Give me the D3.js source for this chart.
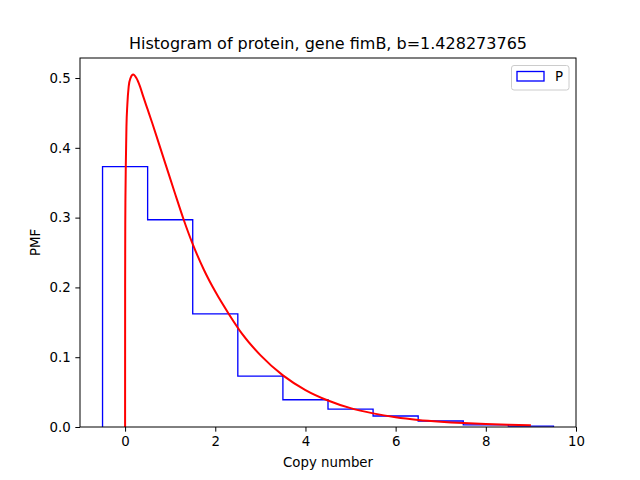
<!DOCTYPE html>
<html>
<head>
<meta charset="utf-8">
<script src="https://cdn.jsdelivr.net/npm/d3@7"></script>
<style>
html,body{margin:0;padding:0;background:#fff;}
svg{display:block;font-family:"DejaVu Sans",sans-serif;}
</style>
</head>
<body>
<svg id="chart" width="640" height="480"></svg>
<script>
// Histogram bin centres and PMF heights (bin width 1)
const binCenters = [0, 1, 2, 3, 4, 5, 6, 7, 8, 9];
const binValues = [0.373, 0.297, 0.162, 0.073, 0.039, 0.0255, 0.0158, 0.0086, 0.003, 0.0012];
// Fitted curve
const curveX = [0, 0.001, 0.004, 0.008, 0.016, 0.03, 0.05, 0.08, 0.12, 0.18, 0.25, 0.33, 0.4, 0.5, 0.6, 0.75, 0.9, 1.1, 1.3, 1.5, 1.75, 2.0, 2.3, 2.6, 3.0, 3.5, 4.0, 4.5, 5.0, 5.5, 6.0, 6.5, 7.0, 7.5, 8.0, 8.5, 9.0];
const curveY = [0, 0.20, 0.29, 0.33, 0.375, 0.43, 0.462, 0.488, 0.500, 0.505, 0.500, 0.488, 0.474, 0.455, 0.436, 0.406, 0.376, 0.336, 0.297, 0.262, 0.225, 0.194, 0.162, 0.133, 0.103, 0.074, 0.053, 0.038, 0.027, 0.0195, 0.014, 0.0102, 0.0076, 0.0057, 0.0043, 0.0032, 0.0024];
const xTicks = [0, 2, 4, 6, 8, 10];
const yTicks = [0.0, 0.1, 0.2, 0.3, 0.4, 0.5];
const titleText = "Histogram of protein, gene fimB, b=1.428273765";
const xLabel = "Copy number";
const yLabel = "PMF";
const legendLabel = "P";

const svg = d3.select("#chart");
const L = 80, R = 576, T = 58, B = 427;
const x = d3.scaleLinear().domain([-1, 10]).range([L, R]);
const y = d3.scaleLinear().domain([0, 0.5287]).range([B, T]);

svg.append("rect").attr("width", 640).attr("height", 480).attr("fill", "#fff");

// Step histogram
const stepPts = [[binCenters[0] - 0.5, 0]];
binCenters.forEach((c, i) => {
  stepPts.push([c - 0.5, binValues[i]]);
  stepPts.push([c + 0.5, binValues[i]]);
});
stepPts.push([binCenters[binCenters.length - 1] + 0.5, 0]);
svg.append("path")
  .datum(stepPts)
  .attr("d", d3.line().x(d => x(d[0])).y(d => y(d[1])))
  .attr("fill", "none").attr("stroke", "#0000ff").attr("stroke-width", 1.33)
  .attr("stroke-linejoin", "miter");

// Curve
const curvePts = curveX.map((v, i) => [v, curveY[i]]);
svg.append("path")
  .datum(curvePts)
  .attr("d", d3.line().x(d => x(d[0])).y(d => y(d[1])).curve(d3.curveMonotoneX))
  .attr("fill", "none").attr("stroke", "#ff0000").attr("stroke-width", 2)
  .attr("stroke-linejoin", "round");

// Axes
const xAxis = d3.axisBottom(x).tickValues(xTicks).tickFormat(d3.format("d")).tickSizeInner(4.67).tickSizeOuter(0).tickPadding(4.67);
const yAxis = d3.axisLeft(y).tickValues(yTicks).tickFormat(d3.format(".1f")).tickSizeInner(4.67).tickSizeOuter(0).tickPadding(4.67);
const gx = svg.append("g").attr("transform", `translate(0,${B})`).call(xAxis);
const gy = svg.append("g").attr("transform", `translate(${L},0)`).call(yAxis);
[gx, gy].forEach(g => {
  g.select(".domain").remove();
  g.selectAll("line").attr("stroke", "#000").attr("stroke-width", 1);
  g.selectAll("text").attr("fill", "#000").attr("font-size", "13.33px").attr("font-family", "DejaVu Sans");
});

// Frame
svg.append("rect").attr("x", L).attr("y", T).attr("width", R - L).attr("height", B - T)
  .attr("fill", "none").attr("stroke", "#000").attr("stroke-width", 1);

// Title and labels
svg.append("text").attr("x", (L + R) / 2).attr("y", 49).attr("text-anchor", "middle")
  .attr("font-size", "16px").attr("fill", "#000").text(titleText);
svg.append("text").attr("x", (L + R) / 2).attr("y", 467).attr("text-anchor", "middle")
  .attr("font-size", "13.33px").attr("fill", "#000").text(xLabel);
svg.append("text").attr("transform", `translate(40,${(T + B) / 2}) rotate(-90)`).attr("text-anchor", "middle")
  .attr("font-size", "13.33px").attr("fill", "#000").text(yLabel);

// Legend
const lg = svg.append("g");
lg.append("rect").attr("x", 511.5).attr("y", 65.5).attr("width", 57.5).attr("height", 24.5)
  .attr("rx", 2.5).attr("fill", "#fff").attr("fill-opacity", 0.8).attr("stroke", "#cccccc").attr("stroke-width", 1);
lg.append("rect").attr("x", 517).attr("y", 71.5).attr("width", 27).attr("height", 9.5)
  .attr("fill", "none").attr("stroke", "#0000ff").attr("stroke-width", 1.33);
lg.append("text").attr("x", 555).attr("y", 81).attr("font-size", "13.33px").attr("fill", "#000").text(legendLabel);
</script>
</body>
</html>
